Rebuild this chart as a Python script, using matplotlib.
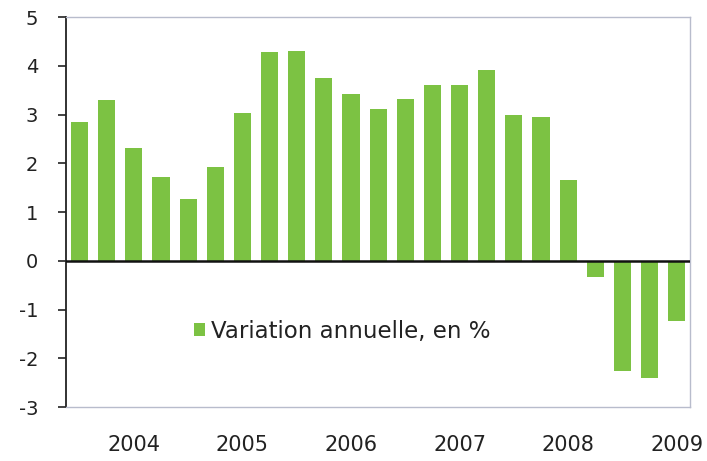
import matplotlib.pyplot as plt
import numpy as np

# Quarterly annual variation, 2004 Q1 .. 2009 Q3
values = [2.85, 3.3, 2.31, 1.71, 1.27, 1.93, 3.04, 4.29, 4.3, 3.74, 3.42, 3.12,
          3.31, 3.6, 3.6, 3.91, 2.99, 2.96, 1.66, -0.33, -2.27, -2.41, -1.23]
year_labels = ['2004', '2005', '2006', '2007', '2008', '2009']
year_pos = [2, 6, 10, 14, 18, 22]
series_name = 'Variation annuelle, en %'

green = '#7cc243'

fig = plt.figure(figsize=(7.07, 4.61), dpi=100)
ax = fig.add_axes([0.0934, 0.117, 0.883, 0.846])

x = np.arange(len(values))
ax.bar(x, values, width=0.63, color=green, label=series_name, zorder=2)
ax.axhline(0, color='#111111', linewidth=1.8, zorder=3)

ax.set_xlim(-0.5, len(values) - 0.5)
ax.set_ylim(-3, 5)
ax.set_yticks(range(-3, 6))
ax.set_yticklabels([str(v) for v in range(-3, 6)])
ax.set_xticks(year_pos)
ax.set_xticklabels(year_labels)

ax.tick_params(axis='y', direction='out', length=6, width=1.2, colors='#222222',
               labelsize=14, pad=14)
ax.tick_params(axis='x', length=0, labelsize=15, pad=20, colors='#222222')

ax.spines['left'].set_color('#222222')
ax.spines['left'].set_linewidth(1.3)
for side in ['top', 'right', 'bottom']:
    ax.spines[side].set_color('#b8bccc')
    ax.spines[side].set_linewidth(1.0)

ax.legend(loc='center left', bbox_to_anchor=(0.172, 0.195), frameon=False,
          fontsize=16.5, handlelength=0.5, handleheight=0.5, handletextpad=0.25,
          labelcolor='#222222')

fig.savefig('out.png', dpi=100)
